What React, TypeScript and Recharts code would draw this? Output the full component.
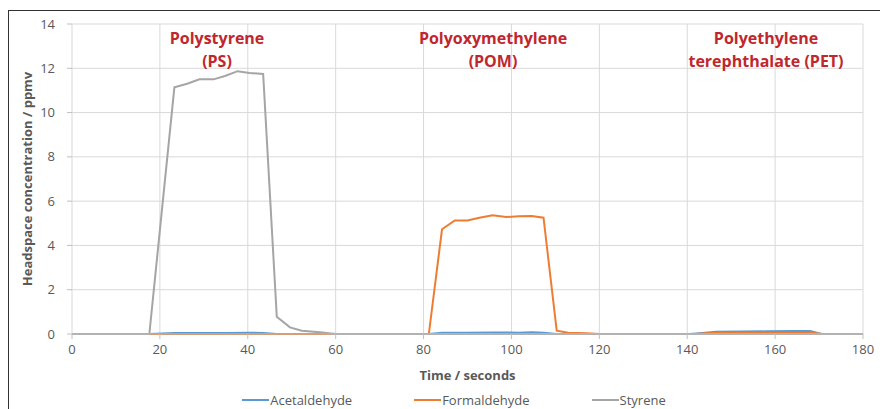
import React from 'react';
import { LineChart, Line, XAxis, YAxis, CartesianGrid, Label } from 'recharts';

// sample times (s) and concentrations (ppmv)
const styreneTimes = [0, 17.6, 23.3, 26.2, 29.0, 32.2, 34.8, 37.7, 40.4, 43.5, 46.6, 49.6, 52.3, 56.4, 60, 180];
const styreneValues = [0, 0, 11.14, 11.3, 11.5, 11.5, 11.65, 11.87, 11.79, 11.74, 0.78, 0.3, 0.15, 0.08, 0, 0];

const formaldehydeTimes = [0, 81.2, 84.2, 87.1, 90.0, 92.7, 95.7, 98.8, 101.7, 104.6, 107.3, 110.3, 112.9, 117, 120, 142, 145, 155, 165, 168.7, 171, 180];
const formaldehydeValues = [0, 0, 4.73, 5.13, 5.13, 5.25, 5.36, 5.28, 5.32, 5.33, 5.25, 0.15, 0.06, 0.03, 0, 0, 0.04, 0.05, 0.05, 0.04, 0, 0];

const acetaldehydeTimes = [0, 17.6, 23.3, 29, 35, 40, 43.5, 46.6, 81.2, 84.2, 90, 95.7, 101.7, 104.6, 107.3, 110.3, 140.5, 143.5, 146.5, 152, 158, 164, 168, 170.5, 180];
const acetaldehydeValues = [0, 0, 0.04, 0.04, 0.05, 0.06, 0.05, 0, 0, 0.06, 0.06, 0.07, 0.06, 0.08, 0.06, 0, 0, 0.05, 0.1, 0.11, 0.12, 0.13, 0.13, 0, 0];

const xTicks = [0, 20, 40, 60, 80, 100, 120, 140, 160, 180];
const yTicks = [0, 2, 4, 6, 8, 10, 12, 14];

const toPoints = (ts: number[], vs: number[]) => ts.map((t, i) => ({ t, v: vs[i] }));

const series = [
    { name: 'Acetaldehyde', color: '#5B9BD5', data: toPoints(acetaldehydeTimes, acetaldehydeValues) },
    { name: 'Formaldehyde', color: '#ED7D31', data: toPoints(formaldehydeTimes, formaldehydeValues) },
    { name: 'Styrene', color: '#A5A5A5', data: toPoints(styreneTimes, styreneValues) },
];

const annotations = [
    { lines: ['Polystyrene', '(PS)'], cx: 209 },
    { lines: ['Polyoxymethylene', '(POM)'], cx: 485 },
    { lines: ['Polyethylene', 'terephthalate (PET)'], cx: 758 },
];

const font = '"Open Sans", "Noto Sans", sans-serif';

const App: React.FC = () => {
    return (
        // body margin is dropped and redone as padding so the whole 880x409 page belongs to the chart
        <div style={{ width: 880, height: 409, padding: '8px 0 0 8px', boxSizing: 'border-box', overflow: 'hidden' }}>
            <style>{'body { margin: 0; }'}</style>
            <div style={{ position: 'relative', width: 872, height: 401, fontFamily: font }}>
                <div
                    style={{
                        position: 'absolute', top: 2, left: 0, width: 872, height: 399,
                        borderTop: '1px solid #333', borderLeft: '1px solid #333', boxSizing: 'border-box',
                    }}
                />
                <LineChart width={872} height={401} margin={{ top: 16, right: 17, left: 0, bottom: 45 }}>
                    <CartesianGrid stroke="#d9d9d9" strokeWidth={1} />
                    <XAxis
                        type="number"
                        dataKey="t"
                        domain={[0, 180]}
                        ticks={xTicks}
                        allowDuplicatedCategory={false}
                        stroke="#bfbfbf"
                        tickSize={5}
                        tickMargin={6}
                        height={30}
                        tick={{ fill: '#595959', fontSize: 13, fontFamily: font }}
                    >
                        <Label
                            value="Time / seconds"
                            position="bottom"
                            offset={7}
                            style={{ fill: '#595959', fontSize: 13, fontWeight: 700, fontFamily: font }}
                        />
                    </XAxis>
                    <YAxis
                        type="number"
                        domain={[0, 14]}
                        ticks={yTicks}
                        width={64}
                        axisLine={false}
                        tickLine={{ stroke: '#bfbfbf' }}
                        tickSize={5}
                        tickMargin={12}
                        tick={{ fill: '#595959', fontSize: 13, fontFamily: font }}
                    >
                        <Label
                            value="Headspace concentration / ppmv"
                            angle={-90}
                            position="insideLeft"
                            offset={19}
                            style={{ textAnchor: 'middle', fill: '#595959', fontSize: 13, fontWeight: 700, fontFamily: font }}
                        />
                    </YAxis>
                    {series.map((s) => (
                        <Line
                            key={s.name}
                            data={s.data}
                            dataKey="v"
                            name={s.name}
                            type="linear"
                            stroke={s.color}
                            strokeWidth={2}
                            dot={false}
                            isAnimationActive={false}
                        />
                    ))}
                </LineChart>
                {annotations.map((a) => (
                    <div
                        key={a.lines[0]}
                        style={{
                            position: 'absolute', top: 19, left: a.cx - 100, width: 200, textAlign: 'center',
                            color: '#C0272D', fontWeight: 700, fontSize: 16, lineHeight: '23px',
                        }}
                    >
                        {a.lines.map((l) => (
                            <div key={l}>{l}</div>
                        ))}
                    </div>
                ))}
                <div
                    style={{
                        position: 'absolute', top: 384, left: 0, width: 872, display: 'flex', lineHeight: '16px',
                        justifyContent: 'center', gap: 62, fontSize: 13, color: '#595959', paddingLeft: 20, boxSizing: 'border-box',
                    }}
                >
                    {series.map((s) => (
                        <div key={s.name} style={{ display: 'flex', alignItems: 'center' }}>
                            <div style={{ width: 27, height: 2, background: s.color, marginRight: 1 }} />
                            <span>{s.name}</span>
                        </div>
                    ))}
                </div>
            </div>
        </div>
    );
};

export default App;
